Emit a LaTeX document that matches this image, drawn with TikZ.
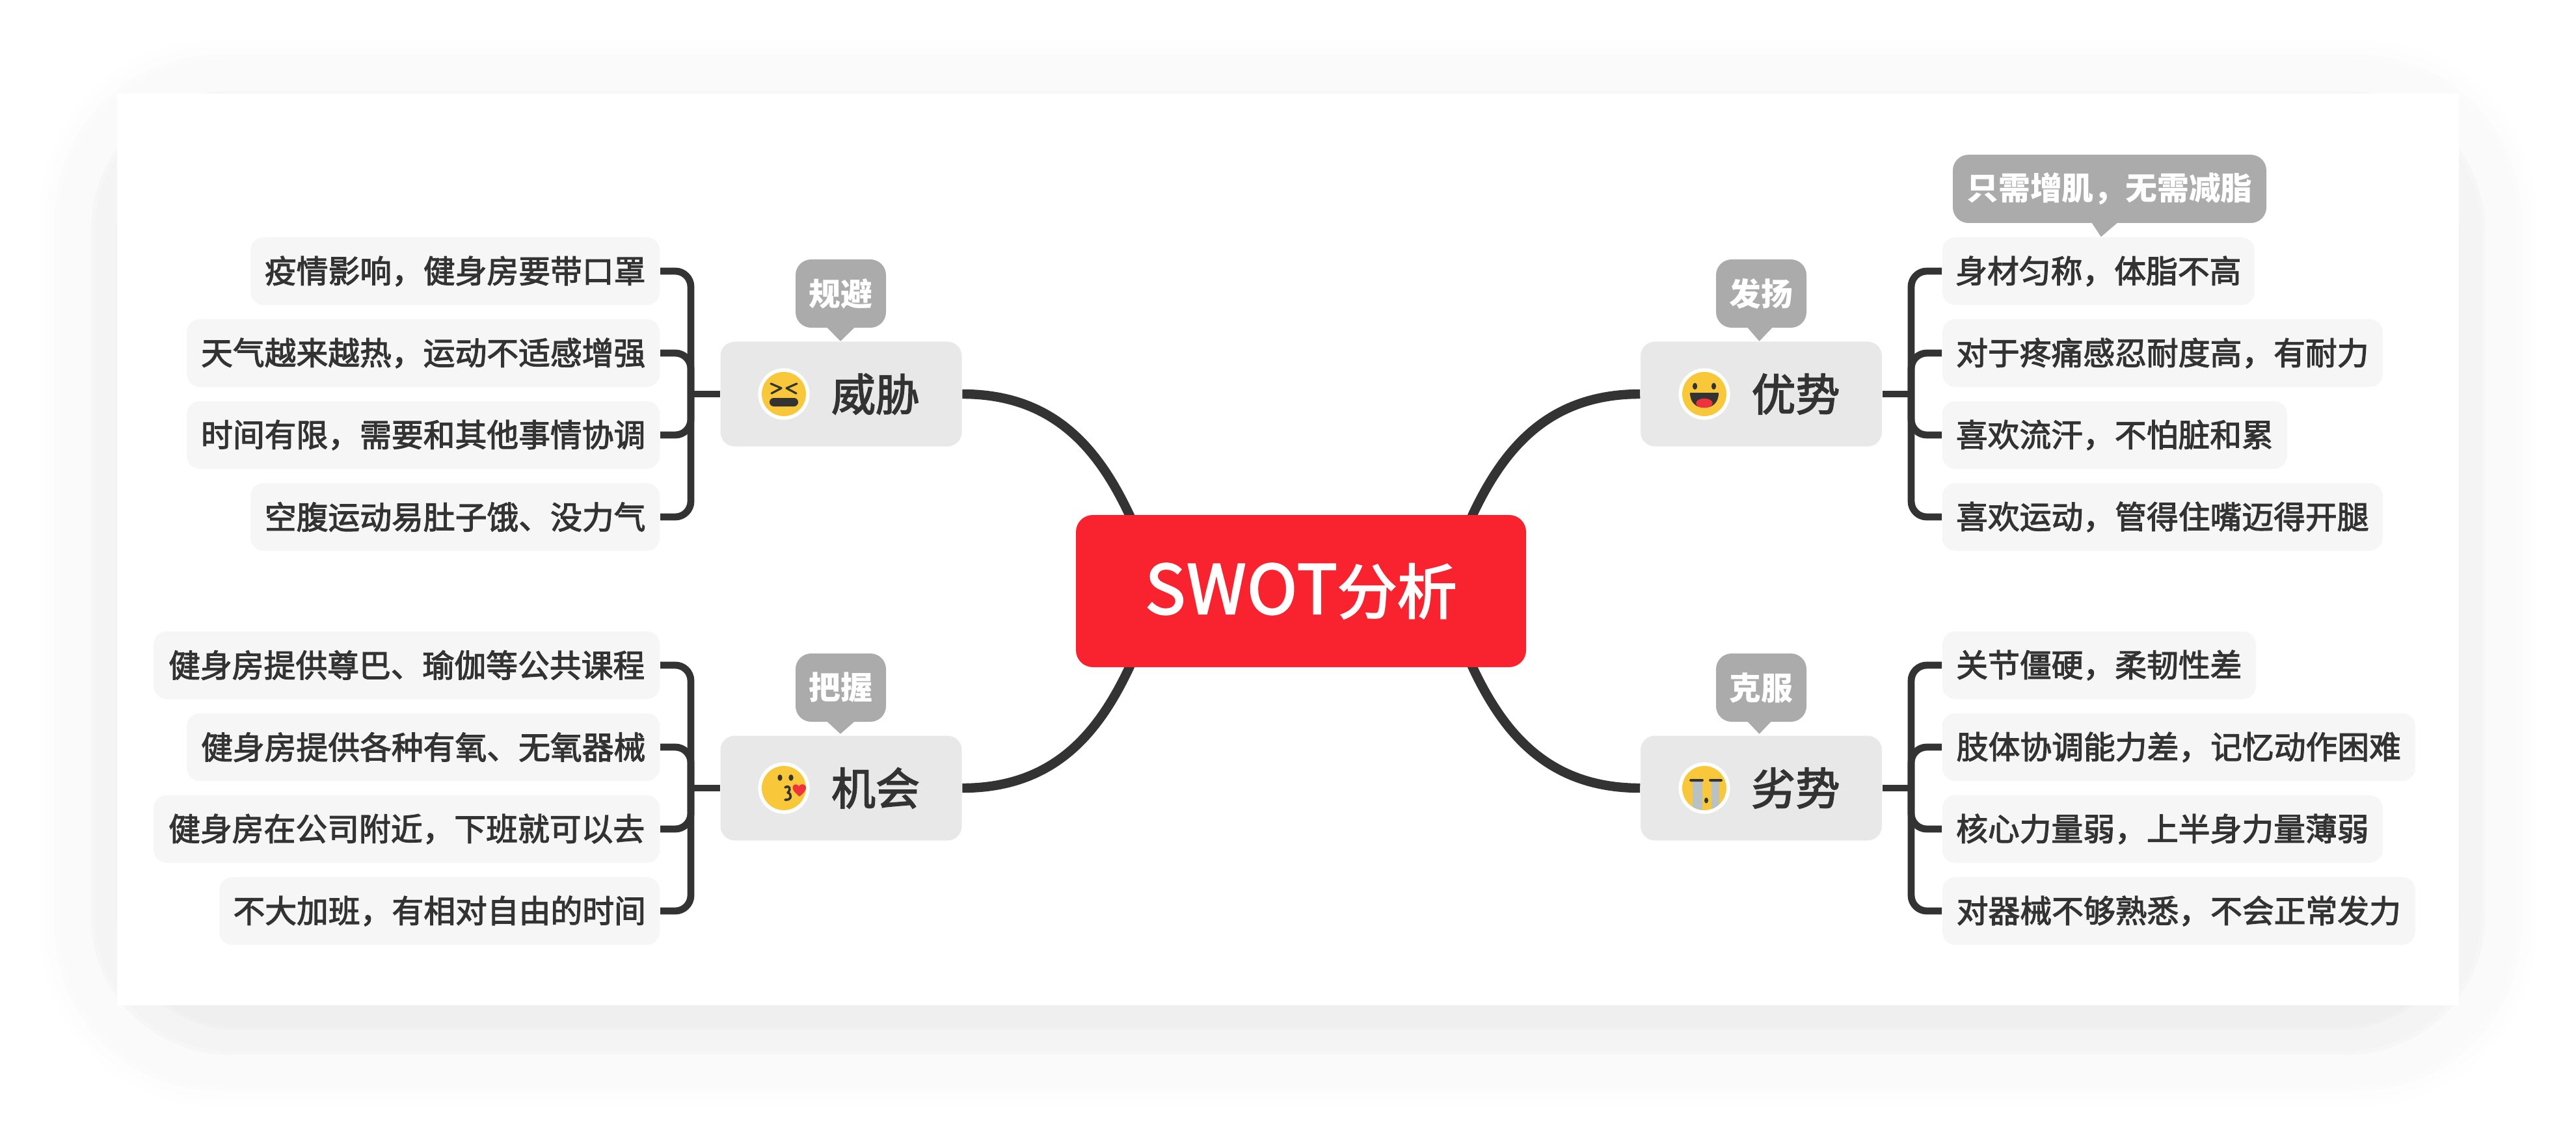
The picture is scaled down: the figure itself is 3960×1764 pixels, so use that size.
\documentclass[tikz,border=0pt]{standalone}
\usepackage{fontspec}
\setmainfont{Noto Sans CJK SC}
\newfontfamily\fm[FakeBold=2.4]{Noto Sans CJK SC}
\usetikzlibrary{calc}
\definecolor{ink}{HTML}{333333}
\definecolor{rootred}{HTML}{F92330}
\definecolor{topicgray}{HTML}{E8E8E8}
\definecolor{leafgray}{HTML}{F6F6F6}
\definecolor{calloutgray}{HTML}{ABABAB}
\definecolor{smile}{HTML}{F8C83A}
\definecolor{tear}{HTML}{B8C1C3}
\definecolor{tongue}{HTML}{F0323C}
\pgfdeclarelayer{under}
\pgfsetlayers{under,main}
\tikzset{
  x=0.25pt,y=-0.25pt,
  rootnode/.style={fill=rootred,text=white,rounded corners=6.5pt,inner sep=0pt,minimum width=173pt,minimum height=58.5pt,font=\fm\fontsize{23}{23}\selectfont},
  topic/.style={fill=topicgray,text=ink,rounded corners=5.5pt,inner sep=0pt,minimum width=92.75pt,minimum height=40.25pt,font=\fm\fontsize{17}{17}\selectfont},
  leaf/.style={fill=leafgray,text=ink,rounded corners=5pt,inner sep=0pt,minimum height=26pt,font=\fm\fontsize{12.2}{12.2}\selectfont},
  callout/.style={fill=calloutgray,text=white,rounded corners=6pt,inner sep=0pt,minimum height=26.25pt,font=\bfseries\fontsize{12.2}{12.2}\selectfont},
  main link/.style={draw=ink,line width=3.6pt},
  branch/.style={draw=ink,line width=2.7pt,rounded corners=6pt},
  stub/.style={draw=ink,line width=2.7pt},
  tip/.style={fill=calloutgray},
  face edge/.style={fill=white},
  face/.style={fill=smile},
  feature/.style={fill=ink},
  feature line/.style={draw=ink,line width=0.8pt,line cap=round,line join=round}
}
\begin{document}
\begin{tikzpicture}
\useasboundingbox (0,0) rectangle (3960,1764);
\begin{pgfonlayer}{under}
  \fill[white] (0,0) rectangle (3960,1764);
  \foreach \d/\g in {118/254,108/253,96/251,88/250,40/246,34/244,2/241,-3/239}{
    \pgfmathsetmacro{\r}{0.25*(185+0.7*\d)}
    \fill[fill={rgb,255:red,\g;green,\g;blue,\g},rounded corners=\r pt] (180-\d,180-\d) rectangle (3780+\d,1582+\d);
  }
  \fill[white] (180,144) rectangle (3780,1546);
\end{pgfonlayer}

% central topic
\node[rootnode] (root) at (2000,909) {{\fontsize{26}{26}\selectfont\addfontfeature{LetterSpace=2}SWOT}分析};
\coordinate (rootNW) at (1740,800);
\coordinate (rootNE) at (2260,800);
\coordinate (rootSW) at (1740,1018);
\coordinate (rootSE) at (2260,1018);

% main topics
\node[topic] (threat) at (1293,606) {\hspace{26.5pt}威胁};
\node[topic] (chance) at (1293,1212) {\hspace{26.5pt}机会};
\node[topic] (strength) at (2707.5,606) {\hspace{26.5pt}优势};
\node[topic] (weak) at (2707.5,1212) {\hspace{26.5pt}劣势};

% leaves, right
\node[leaf,anchor=west,minimum width={(3465-2985)*0.25pt}] (s1) at (2985,417) {身材匀称，体脂不高};
\node[leaf,anchor=west,minimum width={(3662-2985)*0.25pt}] (s2) at (2985,543) {对于疼痛感忍耐度高，有耐力};
\node[leaf,anchor=west,minimum width={(3515-2985)*0.25pt}] (s3) at (2985,669) {喜欢流汗，不怕脏和累};
\node[leaf,anchor=west,minimum width={(3662-2985)*0.25pt}] (s4) at (2985,795) {喜欢运动，管得住嘴迈得开腿};
\node[leaf,anchor=west,minimum width={(3467-2985)*0.25pt}] (w1) at (2985,1023) {关节僵硬，柔韧性差};
\node[leaf,anchor=west,minimum width={(3712-2985)*0.25pt}] (w2) at (2985,1149) {肢体协调能力差，记忆动作困难};
\node[leaf,anchor=west,minimum width={(3662-2985)*0.25pt}] (w3) at (2985,1275) {核心力量弱，上半身力量薄弱};
\node[leaf,anchor=west,minimum width={(3712-2985)*0.25pt}] (w4) at (2985,1401) {对器械不够熟悉，不会正常发力};

% leaves, left
\node[leaf,anchor=east,minimum width={(1015-386)*0.25pt}] (t1) at (1015,417) {疫情影响，健身房要带口罩};
\node[leaf,anchor=east,minimum width={(1015-288)*0.25pt}] (t2) at (1015,543) {天气越来越热，运动不适感增强};
\node[leaf,anchor=east,minimum width={(1015-288)*0.25pt}] (t3) at (1015,669) {时间有限，需要和其他事情协调};
\node[leaf,anchor=east,minimum width={(1015-386)*0.25pt}] (t4) at (1015,795) {空腹运动易肚子饿、没力气};
\node[leaf,anchor=east,minimum width={(1015-237)*0.25pt}] (c1) at (1015,1023) {健身房提供尊巴、瑜伽等公共课程};
\node[leaf,anchor=east,minimum width={(1015-288)*0.25pt}] (c2) at (1015,1149) {健身房提供各种有氧、无氧器械};
\node[leaf,anchor=east,minimum width={(1015-237)*0.25pt}] (c3) at (1015,1275) {健身房在公司附近，下班就可以去};
\node[leaf,anchor=east,minimum width={(1015-338)*0.25pt}] (c4) at (1015,1401) {不大加班，有相对自由的时间};

% callouts
\node[callout,minimum width=34.75pt] (ct) at (1292.5,451.5) {规避};
\node[callout,minimum width=34.75pt] (cc) at (1292.5,1057.5) {把握};
\node[callout,minimum width=34.75pt] (cs) at (2707.5,451.5) {发扬};
\node[callout,minimum width=34.75pt] (cw) at (2707.5,1057.5) {克服};
\node[callout,minimum width=120.5pt] (cl) at (3243,290.5) {只需增肌，无需减脂};
\fill[tip] ($(ct.south)+(-22,-2)$) -- ($(threat.north)+(-1,0)$) -- ($(ct.south)+(22,-2)$) -- cycle;
\fill[tip] ($(cc.south)+(-22,-2)$) -- ($(chance.north)+(-1,-2)$) -- ($(cc.south)+(22,-2)$) -- cycle;
\fill[tip] ($(cs.south)+(-22,-2)$) -- ($(strength.north)+(-3,0)$) -- ($(cs.south)+(18,-2)$) -- cycle;
\fill[tip] ($(cw.south)+(-22,-2)$) -- ($(weak.north)+(-3,-2)$) -- ($(cw.south)+(16,-2)$) -- cycle;
\fill[tip] ($(cl.south)+(-28,-2)$) -- ($(s1.north)+(4,0)$) -- ($(cl.south)+(13,-2)$) -- cycle;

% connectors
\begin{pgfonlayer}{under}
  \draw[main link] (threat.east) .. controls (1620,606) and (1690,690) .. (rootNW);
  \draw[main link] (chance.east) .. controls (1620,1212) and (1690,1128) .. (rootSW);
  \draw[main link] (strength.west) .. controls (2380,606) and (2310,690) .. (rootNE);
  \draw[main link] (weak.west) .. controls (2380,1212) and (2310,1128) .. (rootSE);
  \coordinate (tt) at (1062,606);
  \coordinate (tc) at (1062,1212);
  \coordinate (ts) at (2938,606);
  \coordinate (tw) at (2938,1212);
  \draw[stub] (threat.west) -- (tt);
  \draw[stub] (chance.west) -- (tc);
  \draw[stub] (strength.east) -- (ts);
  \draw[stub] (weak.east) -- (tw);
  \foreach \a in {t1,t2,t3,t4} \draw[branch] (tt) |- (\a.east);
  \foreach \a in {c1,c2,c3,c4} \draw[branch] (tc) |- (\a.east);
  \foreach \a in {s1,s2,s3,s4} \draw[branch] (ts) |- (\a.west);
  \foreach \a in {w1,w2,w3,w4} \draw[branch] (tw) |- (\a.west);
\end{pgfonlayer}

% emoji: threat
\begin{scope}[shift={(1205,606)}]
  \fill[face edge] (0,0) circle (9.9pt);
  \fill[face] (0,0) circle (8.5pt);
  \draw[feature line] (-20,-16) -- (-4,-9) -- (-19,-1);
  \draw[feature line] (20,-16) -- (4,-9) -- (19,-1);
  \fill[feature,rounded corners=1.6pt] (-22,6) rectangle (22,19);
\end{scope}
% emoji: chance
\begin{scope}[shift={(1205,1212)}]
  \fill[face edge] (0,0) circle (9.9pt);
  \fill[face] (0,0) circle (8.5pt);
  \fill[feature] (-6,-16) ellipse (0.9pt and 1.2pt);
  \fill[feature] (11,-16) ellipse (0.9pt and 1.2pt);
  \draw[feature line,line width=0.9pt] (2,-1) .. controls (8,-5) and (12,1) .. (6,7) .. controls (13,9) and (12,19) .. (2,18);
  \fill[tongue] (24,13) .. controls (16,6) and (12,2) .. (14,-3) .. controls (16,-7) and (21,-6) .. (23,-3) .. controls (26,-7) and (32,-7) .. (34,-2) .. controls (35,3) and (30,8) .. (24,13) -- cycle;
\end{scope}
% emoji: strength
\begin{scope}[shift={(2620,606)}]
  \fill[face edge] (0,0) circle (9.9pt);
  \fill[face] (0,0) circle (8.5pt);
  \fill[feature] (-14.5,-12) ellipse (0.9pt and 1.3pt);
  \fill[feature] (14.5,-12) ellipse (0.9pt and 1.3pt);
  \fill[feature] (-22,-2) -- (22,-2) .. controls (22,14) and (12,21) .. (0,21) .. controls (-12,21) and (-22,14) .. (-22,-2) -- cycle;
  \fill[tongue] (0,14) ellipse (3.2pt and 1.8pt);
\end{scope}
% emoji: weak
\begin{scope}[shift={(2620,1212)}]
  \fill[face edge] (0,0) circle (9.9pt);
  \begin{scope}
    \clip (0,0) circle (8.5pt);
    \fill[face] (0,0) circle (8.5pt);
    \fill[tear] (-18,-10) rectangle (-3,34);
    \fill[tear] (11,-10) rectangle (23,34);
  \end{scope}
  \fill[feature,rounded corners=0.4pt] (-23,-14) rectangle (-1,-10);
  \fill[feature,rounded corners=0.4pt] (7,-14) rectangle (28,-10);
  \fill[feature] (3,19) ellipse (0.75pt and 1.1pt);
\end{scope}
\end{tikzpicture}
\end{document}
